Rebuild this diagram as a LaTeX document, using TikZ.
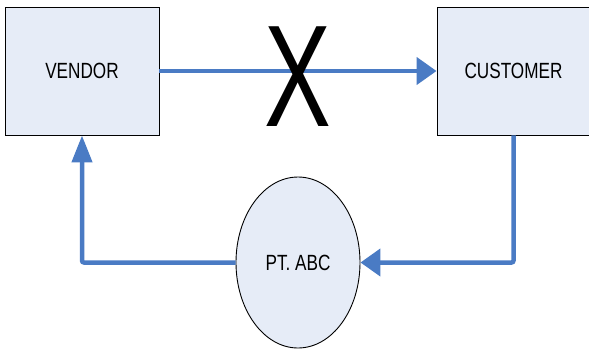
\documentclass[tikz,border=0pt]{standalone}
\usepackage{fontspec}
\setmainfont{Liberation Sans}
\newfontfamily\narrowfont[FakeStretch=0.78]{Liberation Sans}
\newfontfamily\xfont[FakeStretch=0.69]{Liberation Sans}
\usetikzlibrary{shapes.geometric,arrows.meta}
\definecolor{flowblue}{HTML}{4A7BC4}
\definecolor{boxfill}{HTML}{E6ECF7}
\tikzset{
  entity/.style={draw=black, line width=0.9pt, fill=boxfill, inner sep=0pt,
    font=\narrowfont\fontsize{22}{24}\selectfont},
  flow/.style={draw=flowblue, line width=4.5pt, rounded corners=2pt},
  hhead/.style={-{Triangle[length=20pt,width=27pt]}},
  vhead/.style={-{Triangle[length=27pt,width=20pt]}},
}
\begin{document}
\begin{tikzpicture}[x=1pt,y=1pt]
\useasboundingbox (0,0) rectangle (589,-349);
\node[entity, rectangle, minimum width=154pt, minimum height=128pt] (vendor) at (82,-71) {VENDOR};
\node[entity, rectangle, minimum width=153pt, minimum height=128pt, text width=153pt, align=center] (customer) at (513.5,-71) {CUSTOMER};
\node[entity, ellipse, minimum width=124pt, minimum height=171pt] (pt) at (298,-262.5) {PT. ABC};
\draw[flow, hhead] (vendor.east) -- (customer.west);
\draw[flow, hhead] (customer.south) |- (pt.east);
\draw[flow, vhead] (pt.west) -| (vendor.south);
\node[anchor=base, inner sep=0pt, font=\xfont\fontsize{145}{150}\selectfont] (cross) at (298,-126) {X};
\end{tikzpicture}
\end{document}
